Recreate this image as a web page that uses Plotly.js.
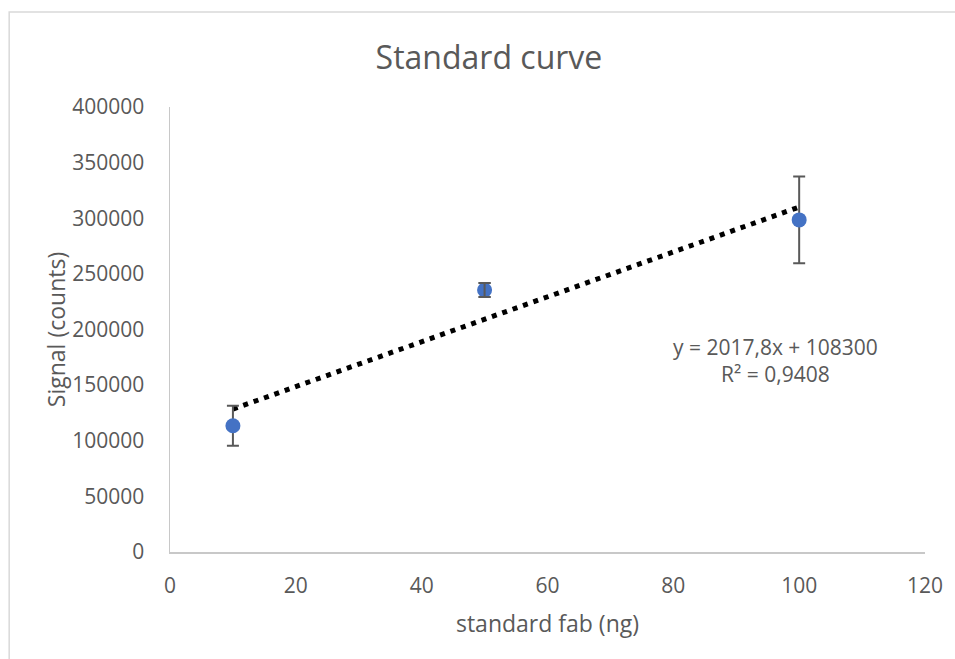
<!DOCTYPE html>
<html>
<head>
<meta charset="utf-8">
<script src="https://cdn.plot.ly/plotly-3.0.1.min.js"></script>
<style>
html,body{margin:0;padding:0;background:#fff;}
#chart{width:955px;height:659px;}
</style>
</head>
<body>
<div id="chart"></div>
<script>
// Data
const fabNg = [10, 50, 100];
const signal = [113500, 235500, 298500];
const signalErr = [18000, 6300, 39000];
// Linear trendline (Excel)
const slope = 2017.8;
const intercept = 108300;
const trendX = [10, 100];
const trendY = trendX.map(x => slope * x + intercept);
const eqText = "y = 2017,8x + 108300<br>R² = 0,9408";

const font = "Open Sans, Liberation Sans, sans-serif";
const grey = "#595959";

const traces = [
  {
    x: trendX, y: trendY, type: "scatter", mode: "lines",
    line: {color: "#000000", width: 5, dash: "5px,6px"},
    hoverinfo: "skip", showlegend: false
  },
  {
    x: fabNg, y: signal, type: "scatter", mode: "markers",
    marker: {color: "#4472C4", size: 15},
    error_y: {type: "data", array: signalErr, visible: true, color: grey, thickness: 2, width: 6},
    showlegend: false
  },
  // short error bar of the middle point, drawn again above its marker (caps peek out as in Excel)
  {
    x: fabNg.slice(1, 2), y: signal.slice(1, 2), type: "scatter", mode: "markers",
    marker: {color: "rgba(0,0,0,0)", size: 1},
    error_y: {type: "data", array: signalErr.slice(1, 2), visible: true, color: grey, thickness: 2, width: 6},
    hoverinfo: "skip", showlegend: false
  }
];

const layout = {
  width: 955, height: 659,
  margin: {l: 170, r: 30, t: 107, b: 107},
  paper_bgcolor: "#ffffff", plot_bgcolor: "#ffffff",
  font: {family: font, color: grey, size: 21},
  title: {text: "Standard curve", font: {family: font, size: 32, color: grey},
          xref: "container", x: 0.512, xanchor: "center", yref: "container", y: 0.912, yanchor: "middle"},
  xaxis: {
    range: [0, 120], dtick: 20, tick0: 0,
    showgrid: false, zeroline: false,
    showline: true, linecolor: "#c8c8c8", linewidth: 1.5,
    ticks: "", ticklen: 0, ticklabelstandoff: 14,
    tickfont: {family: font, size: 21, color: grey},
    title: {text: "standard fab (ng)", font: {family: font, size: 23, color: grey}, standoff: 18}
  },
  yaxis: {
    range: [0, 400000], dtick: 50000, tick0: 0,
    showgrid: false, zeroline: false,
    showline: true, linecolor: "#c8c8c8", linewidth: 1.5,
    ticks: "", ticklen: 0, ticklabelstandoff: 20,
    exponentformat: "none", tickformat: "d",
    tickfont: {family: font, size: 21, color: grey},
    title: {text: "Signal (counts)", font: {family: font, size: 23, color: grey}, standoff: 0}
  },
  annotations: [
    {x: 96.2, y: 172000, xref: "x", yref: "y", text: eqText, showarrow: false,
     align: "center", font: {family: font, size: 21, color: grey}}
  ],
  shapes: [
    {type: "rect", xref: "paper", yref: "paper", x0: -0.213, x1: 1.2, y0: -0.3, y1: 1.2135,
     line: {color: "#d9d9d9", width: 1.5}, fillcolor: "rgba(0,0,0,0)", layer: "below"}
  ]
};

Plotly.newPlot("chart", traces, layout, {displayModeBar: false, staticPlot: true});
</script>
</body>
</html>
